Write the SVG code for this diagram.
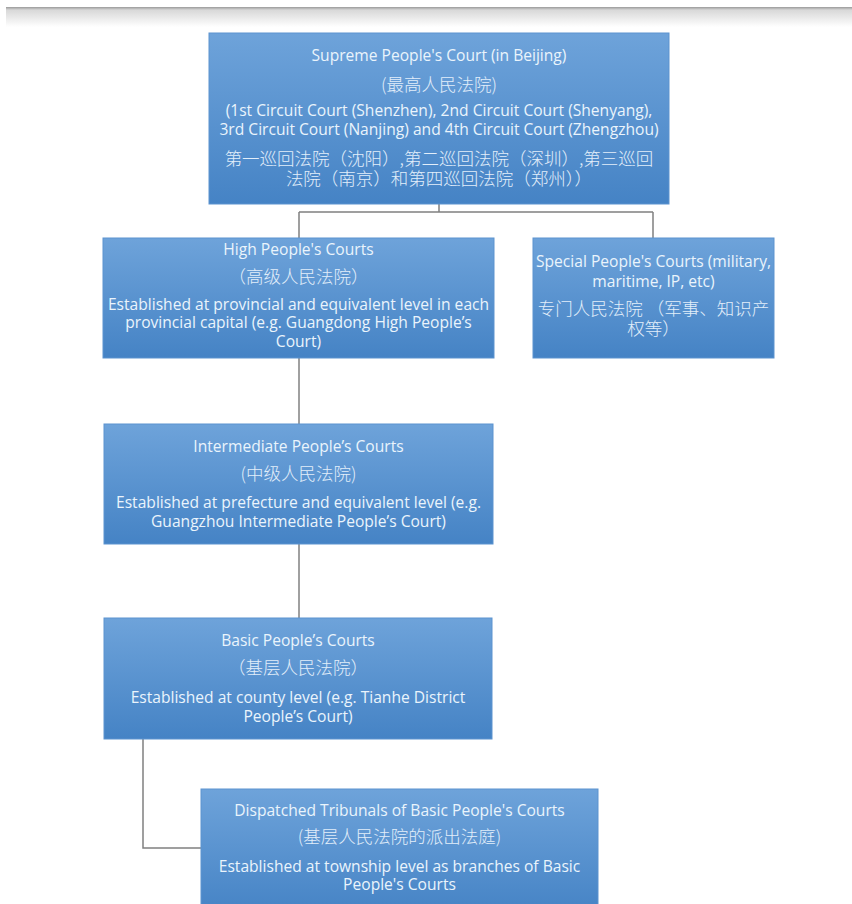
<svg xmlns="http://www.w3.org/2000/svg" width="852" height="904" viewBox="0 0 852 904">
<defs>
<linearGradient id="boxg" x1="0" y1="0" x2="0" y2="1">
<stop offset="0" stop-color="#6ea3da"/>
<stop offset="1" stop-color="#4583c5"/>
</linearGradient>
<linearGradient id="topg" x1="0" y1="0" x2="0" y2="1">
<stop offset="0" stop-color="#9a9a9a"/>
<stop offset="0.15" stop-color="#d8d8d8"/>
<stop offset="1" stop-color="#ffffff"/>
</linearGradient>
</defs>
<style>
.box{fill:url(#boxg);stroke:#5d93cf;stroke-width:1}
.t{font-family:"Open Sans","Liberation Sans",sans-serif;font-size:15.6px;fill:#eaf4fc;text-anchor:middle}
.c{font-family:"Noto Sans CJK SC","Liberation Sans",sans-serif;font-size:17.5px;font-weight:300;fill:#e2eefa;text-anchor:middle}
.ln{fill:none;stroke:#808080;stroke-width:1.5}
</style>
<rect width="852" height="904" fill="#ffffff"/>
<rect x="6" y="7" width="846" height="20" fill="url(#topg)"/>
<g id="connectors">
<path class="ln" d="M439,204 V212 M299,212 H653 M299,212 V238 M653,212 V238"/>
<path class="ln" d="M299,358 V424"/>
<path class="ln" d="M299,544 V618"/>
<path class="ln" d="M143,739 V848 H201"/>
</g>
<g id="supreme">
<rect class="box" x="209" y="33" width="460" height="171"/>
<text class="t" x="439" y="61">Supreme People's Court (in Beijing)</text>
<text class="c" x="439" y="91">(最高人民法院)</text>
<text class="t" x="439" y="116">(1st Circuit Court (Shenzhen), 2nd Circuit Court (Shenyang),</text>
<text class="t" x="439" y="135">3rd Circuit Court (Nanjing) and 4th Circuit Court (Zhengzhou)</text>
<text class="c" x="439" y="165">第一巡回法院（沈阳）,第二巡回法院（深圳）,第三巡回</text>
<text class="c" x="439" y="185">法院（南京）和第四巡回法院（郑州））</text>
</g>
<g id="high">
<rect class="box" x="103" y="238" width="391" height="120"/>
<text class="t" x="298.5" y="255">High People's Courts</text>
<text class="c" x="298.5" y="283">（高级人民法院）</text>
<text class="t" x="298.5" y="310">Established at provincial and equivalent level in each</text>
<text class="t" x="298.5" y="328">provincial capital (e.g. Guangdong High People’s</text>
<text class="t" x="298.5" y="347">Court)</text>
</g>
<g id="special">
<rect class="box" x="533" y="238" width="241" height="120"/>
<text class="t" x="653.5" y="267">Special People's Courts (military,</text>
<text class="t" x="653.5" y="287">maritime, IP, etc)</text>
<text class="c" x="653.5" y="315">专门人民法院 （军事、知识产</text>
<text class="c" x="653.5" y="335">权等）</text>
</g>
<g id="intermediate">
<rect class="box" x="104" y="424" width="389" height="120"/>
<text class="t" x="298.5" y="452">Intermediate People’s Courts</text>
<text class="c" x="298.5" y="480">(中级人民法院)</text>
<text class="t" x="298.5" y="508">Established at prefecture and equivalent level (e.g.</text>
<text class="t" x="298.5" y="527">Guangzhou Intermediate People’s Court)</text>
</g>
<g id="basic">
<rect class="box" x="104" y="618" width="388" height="121"/>
<text class="t" x="298" y="646">Basic People’s Courts</text>
<text class="c" x="298" y="674">（基层人民法院）</text>
<text class="t" x="298" y="703">Established at county level (e.g. Tianhe District</text>
<text class="t" x="298" y="722">People’s Court)</text>
</g>
<g id="dispatched">
<rect class="box" x="201" y="789" width="397" height="125"/>
<text class="t" x="399.5" y="816">Dispatched Tribunals of Basic People's Courts</text>
<text class="c" x="399.5" y="843">(基层人民法院的派出法庭)</text>
<text class="t" x="399.5" y="872">Established at township level as branches of Basic</text>
<text class="t" x="399.5" y="890">People's Courts</text>
</g>
</svg>
